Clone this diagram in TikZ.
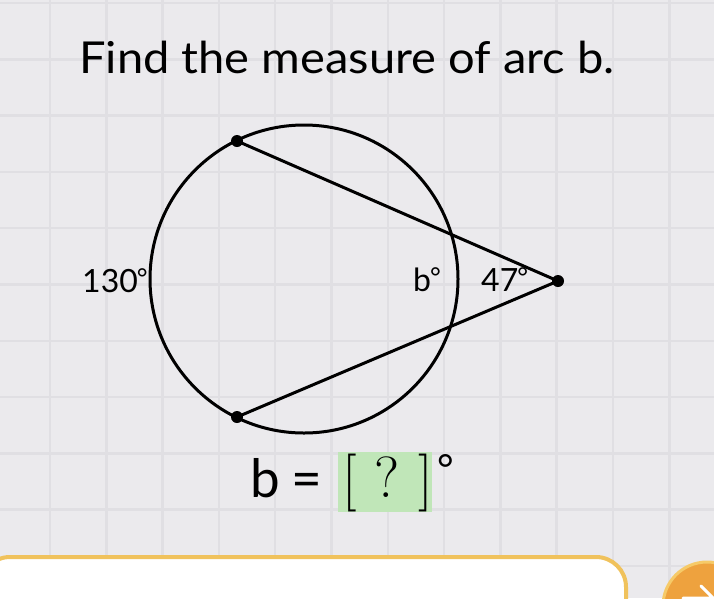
\documentclass[tikz,border=0pt]{standalone}
\usepackage{fontspec}
\newfontfamily\labelfont{Lato}
\definecolor{bgpaper}{RGB}{235,234,237}
\definecolor{gridline}{RGB}{224,223,227}
\definecolor{ansgreen}{RGB}{192,230,184}
\definecolor{barrim}{RGB}{240,194,92}
\definecolor{btnorange}{RGB}{238,162,62}
\definecolor{btnrim}{RGB}{246,202,104}
\newcommand{\smalldeg}{\kern-1pt\raisebox{5pt}{\fontsize{26}{26}\selectfont °}}

\def\plist{{(237,141)/a}, {(237,417)/b}, {(558,281)/p}}
\tikzstyle{edge} = [draw, line width=3pt, -]
\tikzstyle{vertex}=[circle,fill=black,minimum size=12pt,inner sep=0pt]
\tikzstyle{invis-vertex}=[circle,minimum size=0pt,inner sep=0pt]
\tikzstyle{arc-label}=[inner sep=0pt,anchor=base west,font=\labelfont\fontsize{32}{32}\selectfont]
\tikzstyle{eq-sans}=[inner sep=0pt,anchor=base west,font=\labelfont\fontsize{53}{53}\selectfont]
\tikzstyle{eq-serif}=[inner sep=0pt,anchor=base,font=\fontsize{58}{58}\selectfont]

\begin{document}
\begin{tikzpicture}[x=1pt,y=-1pt]
  \useasboundingbox (0,0) rectangle (714,598);
  \clip (0,0) rectangle (714,598);
  \fill[bgpaper] (0,0) rectangle (714,598);
  \foreach \gx in {50,106.3,...,714} {
    \draw[gridline, line width=2.5pt] (\gx,0) -- (\gx,598);
  }
  \foreach \gy in {3,59.3,...,598} {
    \draw[gridline, line width=2.5pt] (0,\gy) -- (714,\gy);
  }

  \node[inner sep=0pt,anchor=base,font=\labelfont\fontsize{44}{44}\selectfont] (title) at (347,73) {\scalebox{1.07}[1]{Find the measure of arc b.}};

  % circle and secants
  \coordinate (o) at (304,279);
  \draw[line width=3pt] (o) circle (154pt);
  \foreach \pos/\name in \plist {
    \node[invis-vertex] (\name) at \pos {};
    \node[vertex] () at \pos {};
  }
  \foreach \source/\sink in {a/p, b/p} {
    \path[edge] (\source) -- (\sink);
  }

  \node[arc-label] (arc130) at (82,292) {130\smalldeg};
  \node[arc-label] (arcb) at (413,291) {b\smalldeg};
  \node[arc-label] (ang47) at (481,291) {47\smalldeg};

  % answer line
  \node[fill=ansgreen,minimum width=94pt,minimum height=60pt,inner sep=0pt] (ansbox) at (385,482) {};
  \node[eq-sans] (eqb) at (250,497) {b};
  \node[eq-sans] (eqsign) at (291,497) {=};
  \node[eq-serif] (lbr) at (350,497) {[};
  \node[eq-serif] (qmark) at (387,497) {?};
  \node[eq-serif] (rbr) at (426,497) {]};
  \node[inner sep=0pt,anchor=base west,font=\labelfont\fontsize{40}{40}\selectfont] (eqdeg) at (437,483) {°};

  % bottom bar and next button
  \draw[barrim, line width=4pt, fill=white, rounded corners=30pt] (-20,557) rectangle (626,660);
  \node[circle,fill=btnorange,draw=btnrim,line width=3pt,minimum size=88pt] (next) at (707,606) {};
  \coordinate (arrtail) at (683,598);
  \coordinate (arrtip) at (713,598);
  \coordinate (arrbarb) at (701,586);
  \draw[white, line width=3pt, line cap=round, line join=round] (arrtail) -- (arrtip) -- (arrbarb);
\end{tikzpicture}
\end{document}
